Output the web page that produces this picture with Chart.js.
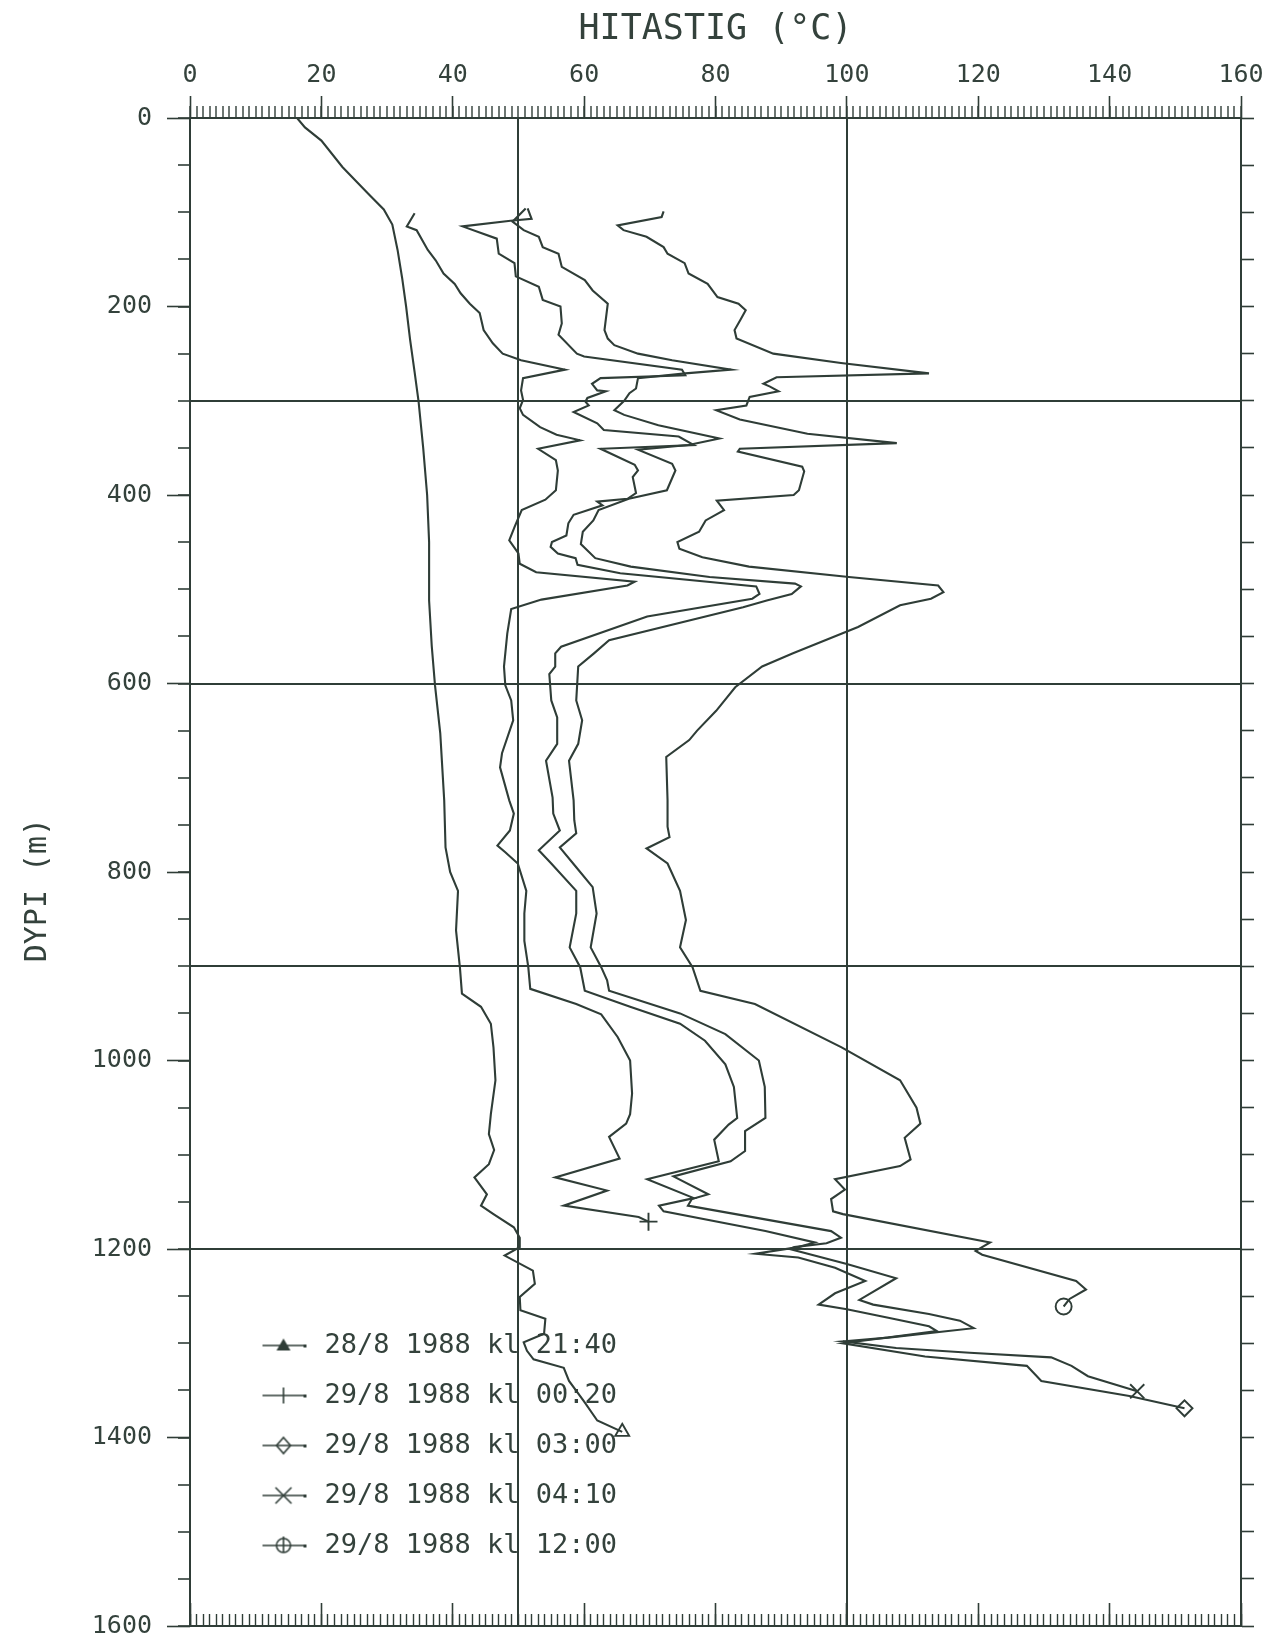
<!DOCTYPE html>
<html>
<head>
<meta charset="utf-8">
<title>Hitastig - dýpi</title>
<script src="https://cdn.jsdelivr.net/npm/chart.js@4.4.1/dist/chart.umd.min.js"></script>
<style>
  html, body { margin: 0; padding: 0; background: #fff; }
  #wrap { position: relative; width: 1283px; height: 1638px; }
</style>
</head>
<body>
<div id="wrap"><canvas id="hitiChart"></canvas></div>
<script>
// Mælingar lesnar af myndinni: dýpi (m) og hiti (°C)
const seriesLabels = ['28/8 1988 kl 21:40', '29/8 1988 kl 00:20', '29/8 1988 kl 03:00', '29/8 1988 kl 04:10', '29/8 1988 kl 12:00'];
const markerStyles = ['triangle', 'cross', 'rectRot', 'crossRot', 'circle'];
const markerSizes = [8, 9, 8, 10, 8];

const depth2140 = [0,10,24,52,80,97,113,140,170,200,235,270,301,350,400,450,512,560,602,653,724,774,800,820,862,902,929,943,961,986,1021,1057,1078,1095,1110,1124,1142,1154,1163,1177,1188,1198,1207,1223,1237,1251,1265,1274,1290,1299,1308,1317,1326,1340,1361,1382,1394];
const temp2140 = [16.3,17.5,20,23.2,27.1,29.5,30.8,31.6,32.3,32.9,33.5,34.2,34.8,35.5,36.1,36.4,36.4,36.8,37.3,38.1,38.7,38.9,39.6,40.8,40.5,41.1,41.4,44.3,45.8,46.2,46.5,45.8,45.5,46.3,45.5,43.3,45.2,44.3,46.2,49.3,50.2,50.2,47.9,52.2,52.5,50.2,50.3,54.1,53.9,50.8,51.3,52.3,56.9,57.7,59.9,62,65.8];

const depth0020 = [101,115,119,140,151,165,176,186,197,207,225,239,250,257,267,276,289,299,308,315,328,336,342,351,363,374,395,405,416,434,448,462,473,482,492,496,511,521,547,582,602,618,639,674,689,724,738,756,772,779,791,820,844,873,901,924,940,951,975,1000,1035,1057,1067,1081,1104,1124,1138,1154,1166,1171];
const temp0020 = [34.2,33,34.5,36.2,37.4,38.6,40.3,41.2,42.6,44.1,44.7,46.1,47.6,50.4,57.1,50.7,50.4,50.7,50.2,50.7,53.3,55.8,59.4,53,55.7,56,55.7,54.1,50.5,49.4,48.6,50,50.2,52.7,67.7,66.6,53.5,48.9,48.3,47.8,48,48.9,49.2,47.5,47.2,48.6,49.3,48.7,46.8,48,49.9,51.2,50.9,50.9,51.5,51.8,58.8,62.6,65.1,67,67.3,67,66.4,63.8,65.4,55.6,63.5,56.9,68.3,69.8];

const depth0300 = [96,107,109,115,128,144,154,168,179,193,200,218,230,250,253,267,273,276,282,289,290,297,301,305,312,324,331,338,347,351,368,374,381,398,404,407,411,421,430,443,450,455,462,467,474,483,497,505,510,529,561,568,582,590,618,636,664,682,721,738,756,777,791,820,844,880,901,926,943,961,979,1004,1028,1061,1068,1084,1107,1126,1146,1154,1160,1181,1193,1198,1205,1209,1220,1234,1247,1259,1264,1273,1282,1287,1300,1314,1324,1340,1356,1369];
const temp0300 = [51.4,52,48.8,41.5,46.7,47,49.4,49.6,53.1,53.7,56.4,56.6,56.1,58.9,60,74.9,75.4,62.5,61.2,62,63.3,60.5,60.2,60.7,58.4,62,63,74.4,76.7,62.5,67.7,68.2,67.4,67.9,66.6,62,62.8,58.4,57.6,57.3,55.1,54.9,56,58.7,59,65.5,86.2,86.7,85.6,69.6,56.5,55.6,55.6,54.7,55,55.9,55.9,54.2,55.2,55.3,56.3,53.1,55,58.8,58.8,57.8,59.4,60.1,67,74.6,78.4,81.5,82.8,83.3,82,79.8,80.5,69.6,76.7,71.4,72.1,87.6,95.1,92.6,86.1,92.6,98.2,102.8,98.2,95.7,100,106.3,112.5,113.7,99.4,111.9,127.4,129.6,143,151.4];

const depth0410 = [96,110,119,126,137,144,158,172,183,197,225,234,241,250,257,267,271,276,287,292,300,310,315,326,340,347,352,367,374,395,404,416,427,439,452,467,476,487,494,497,505,512,519,554,568,582,618,639,664,682,724,745,759,774,795,816,844,880,901,915,926,950,972,1000,1028,1061,1075,1096,1107,1123,1142,1147,1154,1181,1188,1194,1198,1200,1216,1231,1254,1259,1269,1276,1284,1294,1298,1305,1310,1315,1324,1335,1351];
const temp0410 = [51.1,49.1,50.8,53.1,53.7,56.1,56.6,60.1,61.3,63.6,63.1,63.6,64.6,68.2,73.4,82.4,75.4,68.2,67.9,66.9,66.1,64.6,66.1,71.3,80.6,75.9,68.2,73.4,73.9,72.6,66.8,62.2,61.4,59.8,59.5,61.7,67.1,79.1,92.1,93,91.6,87.8,84.2,63.8,61.5,59.1,58.8,59.7,59.1,57.7,58.4,58.5,58.8,56.3,58.8,61.3,61.9,61,62.6,63.5,63.8,74.6,81.5,86.6,87.5,87.6,84.5,84.5,82.3,73.6,78.9,76.4,75.8,97.6,99.1,96.9,92,91.3,100,107.5,101.9,104,112.5,117.2,119.3,106.3,99.4,107.5,118.7,131.1,134.2,136.7,144.2];

const depth1200 = [99,105,114,119,126,137,144,154,165,176,190,197,204,214,225,234,250,260,271,275,282,285,290,296,305,310,320,335,345,351,354,370,375,395,400,406,416,427,439,450,457,466,476,487,496,503,510,517,540,568,582,604,629,650,660,678,724,752,763,775,791,820,851,880,901,926,940,986,1021,1050,1067,1082,1105,1112,1126,1137,1147,1160,1163,1193,1202,1206,1234,1243,1253,1261];
const temp1200 = [72.1,71.8,65.1,66,69.5,72.1,72.7,75.3,75.9,78.8,80.3,83.5,84.6,83.8,82.9,83.2,88.8,99.1,112.5,89.3,87.3,88.3,89.6,85.2,84.7,80.1,83.7,94,107.6,83.7,83.4,93.2,93.5,92.7,91.9,80.2,81.3,78.5,77.5,74.2,74.5,78,85.1,100.3,113.9,114.7,112.8,108.1,101.7,91.8,87.1,83,80.1,77.2,76,72.5,72.7,72.7,73,69.5,72.7,74.6,75.5,74.6,76.5,77.7,86,99.2,108.1,110.6,111.2,108.8,109.7,108.1,98.2,99.7,97.6,97.9,99.4,121.8,119.6,120.6,134.9,136.4,133.9,133];

const tempTicks = [0, 20, 40, 60, 80, 100, 120, 140, 160];
const depthTicks = [0, 200, 400, 600, 800, 1000, 1200, 1400, 1600];
const tempGrid = [50, 100];
const depthGrid = [300, 600, 900, 1200];

const INK = '#2f3d37';
const TEXT = '#34423c';
const FONT = "'DejaVu Sans Mono', 'Liberation Mono', monospace";
const NONE = 'rgba(0,0,0,0)';

Chart.defaults.font.family = FONT;
Chart.defaults.color = TEXT;

function pairUp(temps, depths) {
    const n = Math.min(temps.length, depths.length);
    const out = [];
    for (let i = 0; i < n; i++) out.push({ x: temps[i], y: depths[i] });
    return out;
}

const allSeries = [
    pairUp(temp2140, depth2140),
    pairUp(temp0020, depth0020),
    pairUp(temp0300, depth0300),
    pairUp(temp0410, depth0410),
    pairUp(temp1200, depth1200)
];

// fast stærð á ásum svo teiknisvæðið lendi á sama stað
function fixSize(prop, size) {
    return function(scale) {
        scale[prop] = size;
        scale.paddingTop = 0;
        scale.paddingBottom = 0;
        scale.paddingLeft = 0;
        scale.paddingRight = 0;
    };
}

// lítið tákn fyrir skýringar: lína með merki í miðju
function legendIcon(style) {
    const c = document.createElement('canvas');
    c.width = 46;
    c.height = 22;
    const g = c.getContext('2d');
    g.strokeStyle = INK;
    g.fillStyle = INK;
    g.lineWidth = 1.6;
    g.beginPath();
    g.moveTo(1, 11);
    g.lineTo(44, 11);
    g.stroke();
    g.fillRect(42, 10, 3, 3);
    const cx = 22, cy = 11;
    g.beginPath();
    if (style === 'triangle') {
        g.moveTo(cx, cy - 7); g.lineTo(cx + 7, cy + 5); g.lineTo(cx - 7, cy + 5); g.closePath(); g.fill();
    } else if (style === 'cross') {
        g.moveTo(cx, cy - 8); g.lineTo(cx, cy + 8); g.stroke();
    } else if (style === 'rectRot') {
        g.moveTo(cx, cy - 8); g.lineTo(cx + 7, cy); g.lineTo(cx, cy + 8); g.lineTo(cx - 7, cy); g.closePath(); g.stroke();
    } else if (style === 'crossRot') {
        g.moveTo(cx - 8, cy - 8); g.lineTo(cx + 8, cy + 8); g.moveTo(cx + 8, cy - 8); g.lineTo(cx - 8, cy + 8); g.stroke();
    } else {
        g.arc(cx, cy, 7, 0, Math.PI * 2); g.stroke();
        g.beginPath(); g.moveTo(cx, cy - 9); g.lineTo(cx, cy + 7); g.stroke();
    }
    return c;
}

const legendIcons = markerStyles.map(legendIcon);

// færir skýringarnar neðst til vinstri inn í teiknisvæðið
const legendPlacer = {
    id: 'legendPlacer',
    afterLayout(chart) {
        const lg = chart.legend;
        if (!lg) return;
        lg.left = 235;
        lg.top = 1309;
        lg.right = 800;
        lg.bottom = 1624;
    }
};

const datasets = allSeries.map((pts, i) => ({
    label: seriesLabels[i],
    data: pts,
    showLine: true,
    borderColor: INK,
    borderWidth: 2.1,
    tension: 0,
    fill: false,
    pointStyle: markerStyles[i],
    pointRadius: ctx => ctx.dataIndex === pts.length - 1 ? markerSizes[i] : 0,
    pointBorderColor: INK,
    pointBackgroundColor: NONE,
    pointBorderWidth: 1.9,
    xAxisID: 'x',
    yAxisID: 'y'
}));

const ctx = document.getElementById('hitiChart').getContext('2d');
const hitiChart = new Chart(ctx, {
    type: 'scatter',
    data: { datasets },
    plugins: [legendPlacer],
    options: {
        responsive: true,
        maintainAspectRatio: false,
        animation: false,
        events: [],
        layout: { padding: 0 },
        plugins: {
            tooltip: { enabled: false },
            legend: {
                position: 'chartArea',
                align: 'start',
                labels: {
                    usePointStyle: true,
                    pointStyleWidth: 53,
                    padding: 23,
                    color: TEXT,
                    font: { family: FONT, size: 27 },
                    generateLabels: () => seriesLabels.map((t, i) => ({
                        text: t,
                        pointStyle: legendIcons[i],
                        fillStyle: INK,
                        strokeStyle: INK,
                        fontColor: TEXT,
                        lineWidth: 1,
                        hidden: false,
                        datasetIndex: i
                    }))
                }
            }
        },
        scales: {
            xMinor: {
                type: 'linear', position: 'top', weight: 0, min: 0, max: 160,
                ticks: { display: false, stepSize: 1 },
                grid: {
                    color: c => tempGrid.includes(c.tick && c.tick.value) ? INK : NONE,
                    lineWidth: 2, tickColor: INK, tickWidth: 1.4, tickLength: 12
                },
                border: { display: true, color: INK, width: 2 },
                afterFit: fixSize('height', 0)
            },
            x: {
                type: 'linear', position: 'top', weight: 1, min: 0, max: 160,
                afterBuildTicks: s => { s.ticks = tempTicks.map(v => ({ value: v })); },
                ticks: { callback: v => String(v), font: { size: 25 }, color: TEXT, padding: 6, maxRotation: 0 },
                grid: { drawOnChartArea: false, tickColor: INK, tickWidth: 1.6, tickLength: 22 },
                border: { display: false },
                title: { display: true, text: 'HITASTIG (°C)', color: TEXT, font: { size: 35 }, padding: { top: 9, bottom: 0 } },
                afterFit: fixSize('height', 118)
            },
            xBotMinor: {
                type: 'linear', position: 'bottom', weight: 0, min: 0, max: 160,
                ticks: { display: false, stepSize: 1 },
                grid: { drawOnChartArea: false, tickColor: INK, tickWidth: 1.4, tickLength: -12 },
                border: { display: true, color: INK, width: 2 },
                afterFit: fixSize('height', 0)
            },
            xBotMajor: {
                type: 'linear', position: 'bottom', weight: 1, min: 0, max: 160,
                afterBuildTicks: s => { s.ticks = tempTicks.map(v => ({ value: v })); },
                ticks: { display: false },
                grid: { drawOnChartArea: false, tickColor: INK, tickWidth: 1.6, tickLength: -23 },
                border: { display: false },
                afterFit: fixSize('height', 12)
            },
            yMinor: {
                type: 'linear', position: 'left', weight: 0, min: 0, max: 1600, reverse: true,
                ticks: { display: false, stepSize: 50 },
                grid: {
                    color: c => depthGrid.includes(c.tick && c.tick.value) ? INK : NONE,
                    lineWidth: 2, tickColor: INK, tickWidth: 1.6, tickLength: 12
                },
                border: { display: true, color: INK, width: 2 },
                afterFit: fixSize('width', 0)
            },
            y: {
                type: 'linear', position: 'left', weight: 1, min: 0, max: 1600, reverse: true,
                afterBuildTicks: s => { s.ticks = depthTicks.map(v => ({ value: v })); },
                ticks: { callback: v => String(v), font: { size: 25 }, color: TEXT, padding: 15 },
                grid: { drawOnChartArea: false, tickColor: INK, tickWidth: 1.6, tickLength: 23 },
                border: { display: false },
                // tvö bil í lokin færa textann ögn niður eins og á frummyndinni
                title: { display: true, text: 'DYPI (m)  ', color: TEXT, font: { size: 30 }, padding: { top: 20, bottom: 0 } },
                afterFit: fixSize('width', 190)
            },
            yRight: {
                type: 'linear', position: 'right', min: 0, max: 1600, reverse: true,
                ticks: { display: false, stepSize: 50 },
                grid: { drawOnChartArea: false, tickColor: INK, tickWidth: 1.6, tickLength: 13 },
                border: { display: true, color: INK, width: 2 },
                afterFit: fixSize('width', 42)
            }
        }
    }
});
</script>
</body>
</html>
